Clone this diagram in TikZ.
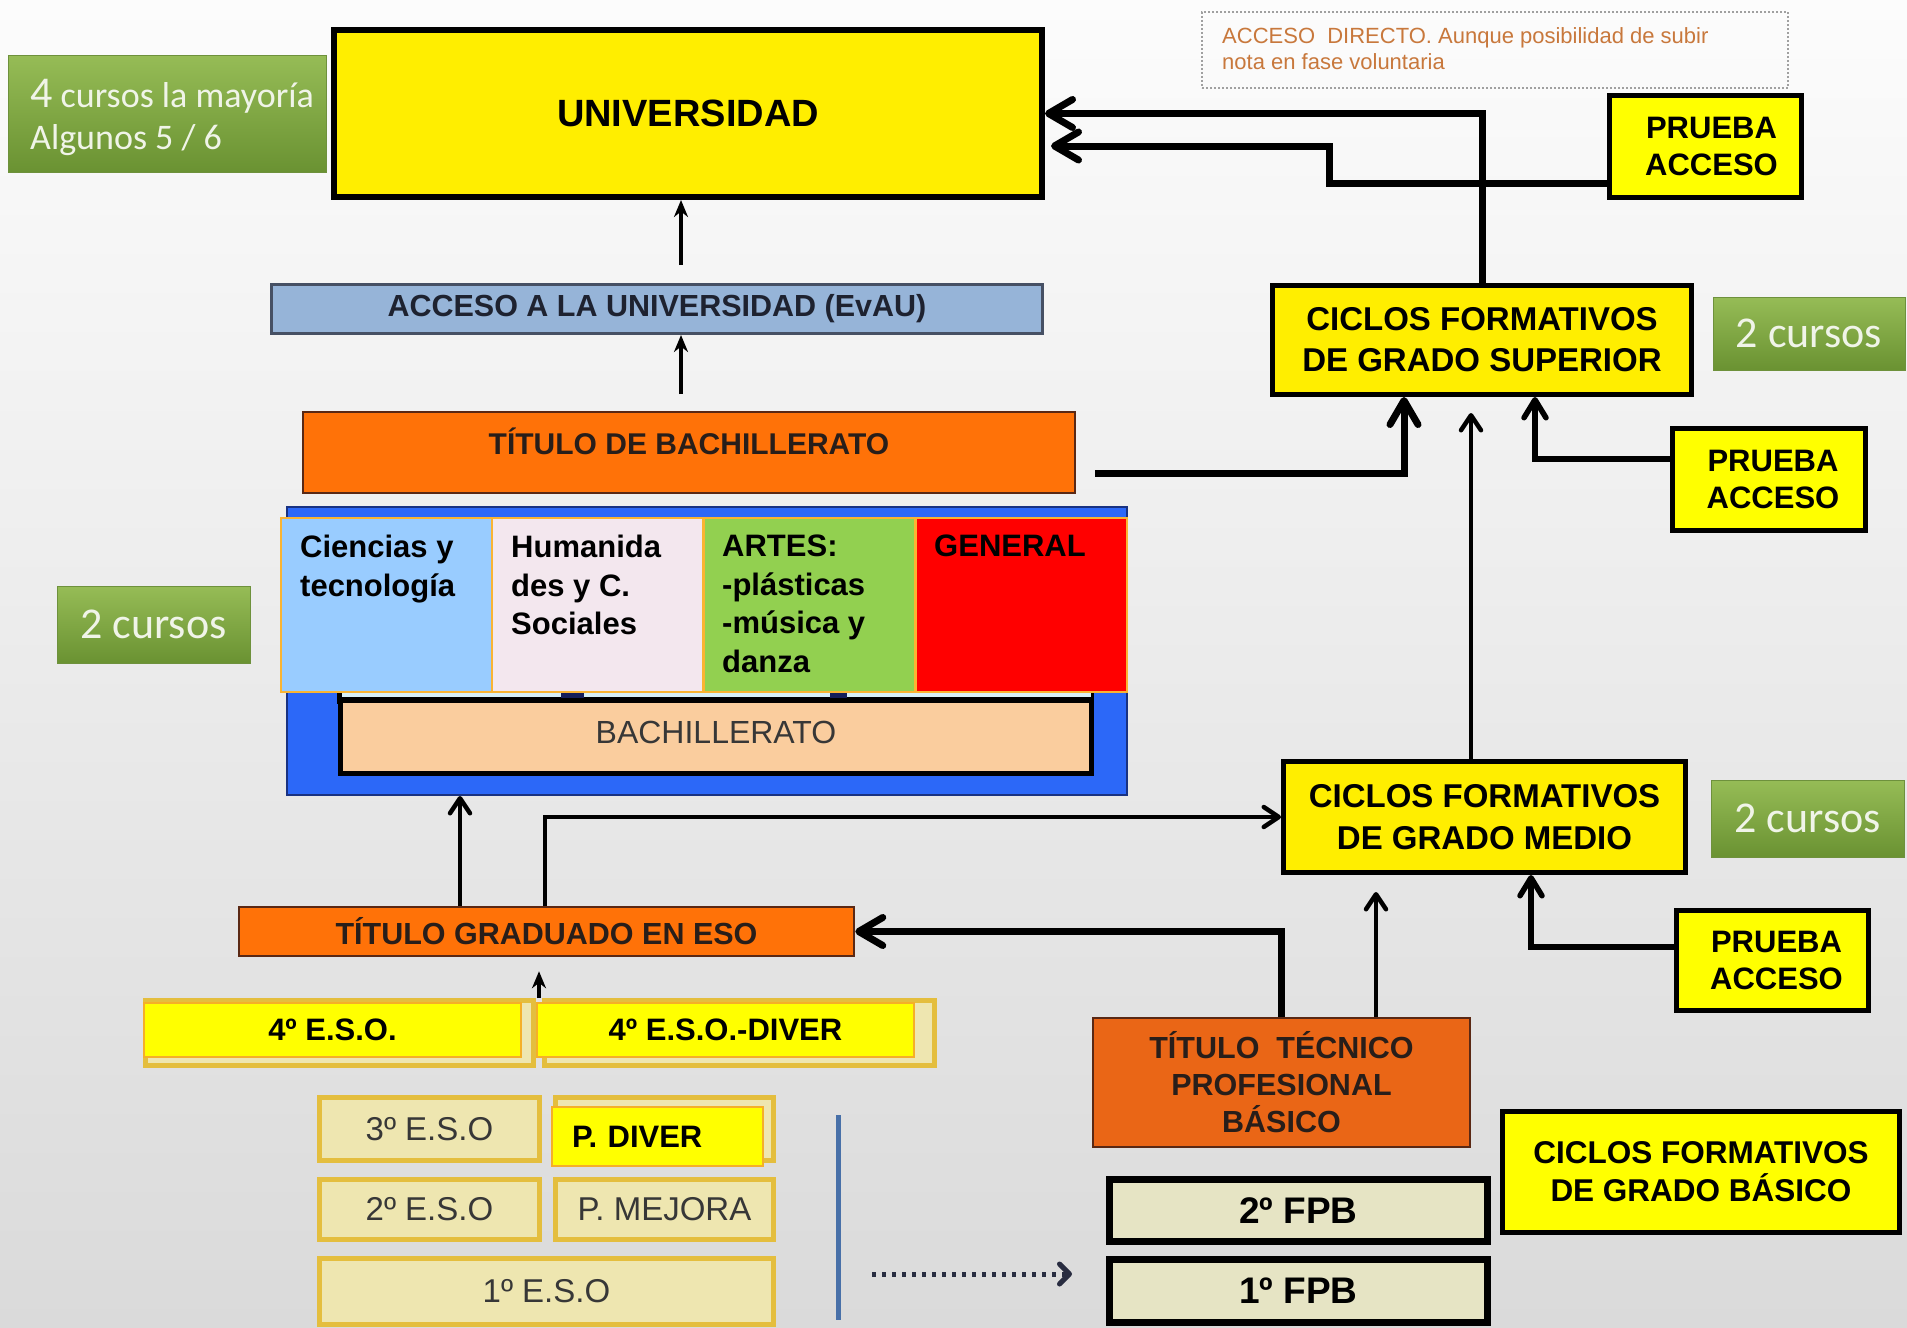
\documentclass[tikz,border=0pt]{standalone}
\usepackage{fontspec}
\setmainfont{Liberation Sans}
\newfontfamily\calib{Carlito}
\usetikzlibrary{arrows.meta}
\newcommand\myfs[2]{\fontsize{#1}{#2}\selectfont}
\definecolor{bgtop}{RGB}{252,252,252}
\definecolor{bgmid}{RGB}{245,245,245}
\definecolor{bgbot}{RGB}{218,218,218}
\definecolor{univy}{RGB}{255,238,0}
\definecolor{purey}{RGB}{255,255,0}
\definecolor{gtop}{RGB}{150,188,86}
\definecolor{gbot}{RGB}{106,146,50}
\definecolor{gedge}{RGB}{110,145,60}
\definecolor{gtext}{RGB}{240,244,232}
\definecolor{notetxt}{RGB}{200,120,60}
\definecolor{notegray}{RGB}{160,160,160}
\definecolor{evaub}{RGB}{150,180,216}
\definecolor{evaubord}{RGB}{70,80,100}
\definecolor{evautext}{RGB}{30,34,48}
\definecolor{darktext}{RGB}{40,30,26}
\definecolor{orangeA}{RGB}{255,114,8}
\definecolor{orangeB}{RGB}{234,102,22}
\definecolor{orbord}{RGB}{90,40,20}
\definecolor{blueb}{RGB}{44,104,248}
\definecolor{bluebord}{RGB}{25,50,130}
\definecolor{cellA}{RGB}{153,204,255}
\definecolor{cellB}{RGB}{243,231,238}
\definecolor{cellC}{RGB}{146,208,80}
\definecolor{cellD}{RGB}{255,0,0}
\definecolor{cellbord}{RGB}{250,180,50}
\definecolor{peach}{RGB}{250,205,158}
\definecolor{stripcyan}{RGB}{215,240,248}
\definecolor{stripnavy}{RGB}{20,30,90}
\definecolor{beigef}{RGB}{238,230,176}
\definecolor{beigeb}{RGB}{228,190,62}
\definecolor{ovbord}{RGB}{245,175,40}
\definecolor{graytext}{RGB}{55,55,55}
\definecolor{fpbf}{RGB}{230,228,196}
\definecolor{lineblue}{RGB}{72,112,168}
\definecolor{dotc}{RGB}{40,44,64}
\tikzset{
 gbox/.style={draw=gedge, line width=1pt, top color=gtop, bottom color=gbot, text=gtext, font=\calib\myfs{44}{48}, inner sep=0},
 ybox/.style={draw=black, fill=univy, align=center, inner sep=0},
 pbox/.style={draw=black, fill=purey, line width=5pt, align=center, inner sep=0, font=\myfs{31}{37}\bfseries},
 obox/.style={draw=orbord, text=darktext, inner sep=0},
 cellbox/.style={draw=cellbord, line width=1.5pt, anchor=north west, minimum width=211pt, minimum height=174pt, inner sep=0},
 celltext/.style={anchor=north west, align=left, inner sep=0, font=\myfs{31}{38.5}\bfseries},
 ubox/.style={draw=beigeb, fill=beigef, line width=5pt, text=graytext, font=\myfs{33}{38}, inner sep=0},
 ovbox/.style={draw=ovbord, fill=purey, line width=1.5pt, font=\myfs{31}{37}\bfseries, inner sep=0},
 fpbbox/.style={draw=black, fill=fpbf, line width=7pt, font=\myfs{37}{44}\bfseries, inner sep=0},
 thk/.style={line width=7pt, -{Straight Barb[length=24pt,width=28pt,round]}},
 med/.style={line width=5.5pt, -{Straight Barb[length=18pt,width=22pt,round]}},
 thn/.style={line width=4.5pt, -{Straight Barb[length=15pt,width=20pt,round]}},
 fine/.style={line width=3.5pt, -{Stealth[length=17pt,width=14pt]}},
}
\begin{document}
\begin{tikzpicture}[x=1pt,y=-1pt]
\useasboundingbox (0,0) rectangle (1907,1328);
\shade[top color=bgtop, middle color=bgmid, bottom color=bgbot] (0,0) rectangle (1907,1328);

% green labels
\node[gbox, minimum width=318pt, minimum height=117pt] (g1) at (167,113.5) {};
\node[anchor=north west, align=left, inner sep=0, text=gtext, font=\calib\myfs{36}{42}] (g1t) at (30,79) {{\myfs{44}{42}4} cursos la mayoría\\Algunos 5 / 6};
\node[gbox, minimum width=192pt, minimum height=73pt] (g2) at (1809,333.5) {2 cursos};
\node[gbox, minimum width=193pt, minimum height=77pt] (g3) at (153.5,624.5) {2 cursos};
\node[gbox, minimum width=193pt, minimum height=77pt] (g4) at (1807.5,818.5) {2 cursos};

% universidad
\node[ybox, line width=6pt, minimum width=708pt, minimum height=167pt, font=\myfs{38}{44}\bfseries] (univ) at (688,113.5) {UNIVERSIDAD};

% note
\node[draw=notegray, line width=1.2pt, dash pattern=on 2pt off 2pt, minimum width=586pt, minimum height=76pt, inner sep=0] (note) at (1495,50) {};
\node[anchor=north west, align=left, inner sep=0, text=notetxt, font=\myfs{22}{26}] (notet) at (1222,27) {ACCESO\ \ DIRECTO. Aunque posibilidad de subir\\nota en fase voluntaria};

% prueba acceso
\node[pbox, minimum width=192pt, minimum height=102pt] (p1) at (1705.5,146.5) {\hspace*{12pt}PRUEBA\\\hspace*{12pt}ACCESO};
\node[pbox, minimum width=193pt, minimum height=102pt] (p2) at (1769,479.5) {\hspace*{8pt}PRUEBA\\\hspace*{8pt}ACCESO};
\node[pbox, minimum width=192pt, minimum height=100pt] (p3) at (1772.5,960.5) {\hspace*{8pt}PRUEBA\\\hspace*{8pt}ACCESO};

% ciclos
\node[ybox, line width=5pt, minimum width=419pt, minimum height=109pt, font=\myfs{33}{41}\bfseries] (cfgs) at (1482,340) {CICLOS FORMATIVOS\\DE GRADO SUPERIOR};
\node[ybox, line width=5pt, minimum width=402pt, minimum height=111pt, font=\myfs{33}{42}\bfseries] (cfgm) at (1484.5,817) {CICLOS FORMATIVOS\\DE GRADO MEDIO};
\node[pbox, minimum width=397pt, minimum height=121pt, font=\myfs{31.5}{38}\bfseries] (cfgb) at (1701,1172) {CICLOS FORMATIVOS\\DE GRADO BÁSICO};

% evau and titulo bachillerato
\node[draw=evaubord, line width=3pt, fill=evaub, minimum width=771pt, minimum height=49pt, inner sep=0, text=evautext, font=\myfs{30.5}{36}\bfseries] (evau) at (657,309) {ACCESO A LA UNIVERSIDAD (EvAU)};
\node[obox, line width=2pt, fill=orangeA, minimum width=772pt, minimum height=81pt] (tbach) at (689,452.5) {};
\node[inner sep=0, text=darktext, font=\myfs{30}{36}\bfseries] (tbacht) at (689,441) {TÍTULO DE BACHILLERATO};

% bachillerato block
\node[draw=bluebord, line width=2pt, fill=blueb, minimum width=840pt, minimum height=288pt, inner sep=0] (bach) at (707,651) {};
\fill[black] (337,691) rectangle (1094,704);
\fill[stripcyan] (342,692) rectangle (561,697);
\fill[stripcyan] (584,692) rectangle (830,697);
\fill[stripcyan] (847,692) rectangle (1091,697);
\fill[stripnavy] (561,691) rectangle (584,698);
\fill[stripnavy] (830,691) rectangle (847,698);
\node[draw=black, line width=5pt, fill=peach, minimum width=751pt, minimum height=73pt, inner sep=0] (bachi) at (716,737) {};
\node[inner sep=0, text=graytext, font=\myfs{32}{38}] (bachit) at (716,732) {BACHILLERATO};
\node[cellbox, fill=cellA] (c1) at (280,517) {};
\node[cellbox, fill=cellB] (c2) at (491,517) {};
\node[cellbox, fill=cellC] (c3) at (703,517) {};
\node[cellbox, fill=cellD] (c4) at (915,517) {};
\node[celltext] (c1t) at (300,535) {Ciencias y\\tecnología};
\node[celltext] (c2t) at (511,535) {Humanida\\des y C.\\Sociales};
\node[celltext] (c3t) at (722,535) {ARTES:\\-plásticas\\-música y\\danza};
\node[celltext] (c4t) at (934,535) {GENERAL};

% titulo eso
\node[obox, line width=2.5pt, fill=orangeA, minimum width=615pt, minimum height=49pt, font=\myfs{30.5}{36}\bfseries] (teso) at (546.5,931.5) {TÍTULO GRADUADO EN ESO};

% ESO courses
\node[ubox, minimum width=388pt, minimum height=65pt] (eso4u) at (339.5,1033) {};
\node[ubox, minimum width=390pt, minimum height=65pt] (eso4du) at (739.5,1033) {};
\node[ovbox, minimum width=377pt, minimum height=54pt] (eso4) at (332.5,1030) {4º E.S.O.};
\node[ovbox, minimum width=377pt, minimum height=54pt] (eso4d) at (725.5,1030) {4º E.S.O.-DIVER};
\node[ubox, minimum width=220pt, minimum height=63pt] (eso3) at (429.5,1129) {3º E.S.O};
\node[ubox, minimum width=218pt, minimum height=63pt] (pdivu) at (664.5,1129) {};
\node[ovbox, minimum width=211pt, minimum height=59pt, text width=171pt, align=left] (pdiv) at (657.5,1136.5) {P. DIVER};
\node[ubox, minimum width=220pt, minimum height=60pt] (eso2) at (429.5,1209.5) {2º E.S.O};
\node[ubox, minimum width=218pt, minimum height=60pt] (pmej) at (664.5,1209.5) {P. MEJORA};
\node[ubox, minimum width=454pt, minimum height=66pt] (eso1) at (546.5,1291.5) {1º E.S.O};
\draw[line width=5pt, lineblue] (838,1115) -- (838,1320);

% FP basica
\node[obox, line width=2pt, fill=orangeB, minimum width=377pt, minimum height=129pt, align=center, font=\myfs{30.5}{37}\bfseries] (ttpb) at (1281.5,1082.5) {TÍTULO\ \ TÉCNICO\\PROFESIONAL\\BÁSICO};
\node[fpbbox, minimum width=378pt, minimum height=62pt] (fpb2) at (1298.5,1210.5) {2º FPB};
\node[fpbbox, minimum width=378pt, minimum height=63pt] (fpb1) at (1298.5,1291) {1º FPB};

% connectors
\coordinate (ax) at (681,0);
\draw[fine, shorten <=18pt] (evau.north -| ax) -- (univ.south -| ax);
\draw[fine, shorten <=17pt] (tbach.north -| ax) -- (evau.south -| ax);
\draw[thk] (cfgs.north) |- (univ.east);
\coordinate (b1) at (1329,146);
\coordinate (b0) at (0,183);
\draw[thk, shorten >=6pt] (p1.west |- b0) -| (b1) -- (univ.east |- b1);
\coordinate (c1p) at (1404,473);
\draw[thk, shorten <=19pt] (tbach.east |- c1p) -| (cfgs.south -| c1p);
\coordinate (d1) at (1471,0);
\draw[thn, shorten >=16pt] (cfgm.north -| d1) -- (cfgs.south -| d1);
\coordinate (e1) at (1535,459);
\draw[med] (p2.west |- e1) -| (cfgs.south -| e1);
\coordinate (k1) at (460,0);
\draw[thn] (teso.north -| k1) -- (bach.south -| k1);
\coordinate (f1) at (545,819);
\draw[thn] (teso.north -| f1) |- (cfgm.west);
\draw[thk] (ttpb.north) |- (teso.east);
\coordinate (g1p) at (1376,0);
\draw[thn, shorten >=17pt] (ttpb.north -| g1p) -- (cfgm.south -| g1p);
\coordinate (h1) at (1531,947);
\draw[med] (p3.west |- h1) -| (cfgm.south -| h1);
\coordinate (i1) at (539,0);
\draw[fine, shorten >=14pt] (eso4u.north -| i1) -- (teso.south -| i1);
\coordinate (j1) at (0,1274);
\draw[dotc, line width=5pt, dash pattern=on 3.5pt off 6.5pt, shorten <=96pt, shorten >=34pt, -{Straight Barb[length=10pt,width=20pt,round]}] (eso1.east |- j1) -- (fpb1.west |- j1);
\end{tikzpicture}
\end{document}
